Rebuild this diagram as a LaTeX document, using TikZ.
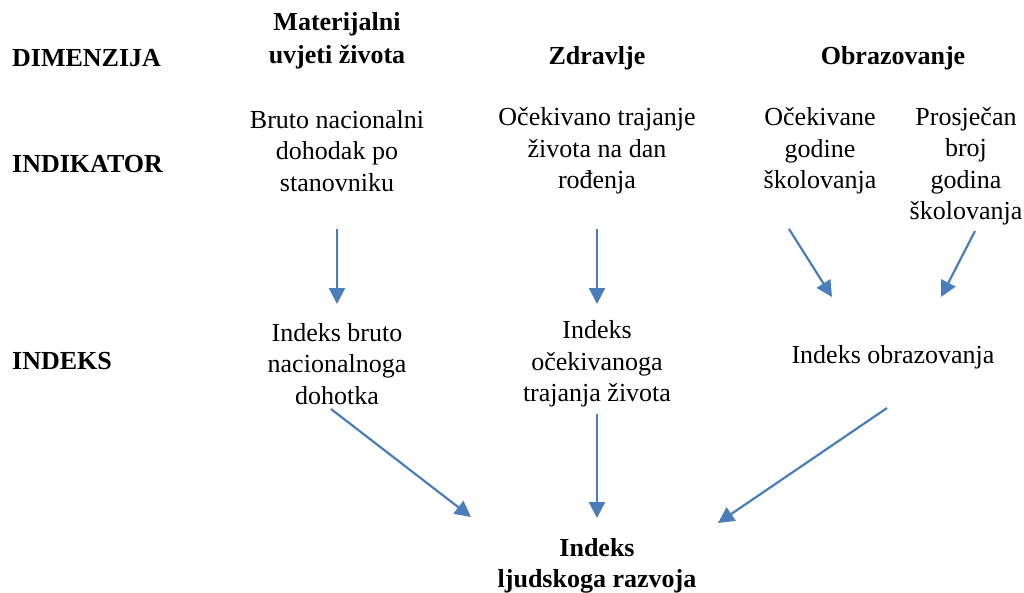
\documentclass[tikz,border=0pt]{standalone}
\usepackage{fontspec}
\setmainfont{Liberation Serif}
\usetikzlibrary{arrows.meta}
\definecolor{arrblue}{RGB}{74,126,187}
\begin{document}
\begin{tikzpicture}[x=1pt,y=-1pt,
  txt/.style={inner sep=0pt,align=center,font=\fontsize{26}{31.5}\selectfont},
  hdr/.style={txt,font=\fontsize{26}{33}\selectfont\bfseries},
  lbl/.style={inner sep=0pt,anchor=west,font=\fontsize{26}{31.5}\selectfont\bfseries},
  arr/.style={draw=arrblue,line width=2.2pt,-{Triangle[length=16pt,width=16pt]}}]
\useasboundingbox (0,0) rectangle (1024,592);
% row labels
\node[lbl] (dim) at (12,58) {DIMENZIJA};
\node[lbl] (ind) at (12,164) {INDIKATOR};
\node[lbl] (idx) at (12,361) {INDEKS};
% dimensions
\node[hdr] (mat) at (337,41) {Materijalni\\uvjeti života};
\node[hdr] (zdr) at (597,58) {Zdravlje};
\node[hdr] (obr) at (893,58) {Obrazovanje};
% indicators
\node[txt] (bnd) at (337,151) {Bruto nacionalni\\dohodak po\\stanovniku};
\node[txt] (otz) at (597,151) {Očekivano trajanje\\života na dan\\rođenja};
\node[txt] (ogs) at (820,151) {Očekivane\\godine\\školovanja};
\node[txt] (pbg) at (966,166) {Prosječan\\broj\\godina\\školovanja};
% indices
\node[txt] (ibn) at (337,364) {Indeks bruto\\nacionalnoga\\dohotka};
\node[txt] (iot) at (597,364) {Indeks\\očekivanoga\\trajanja života};
\node[txt] (iob) at (893,357) {Indeks obrazovanja};
% HDI
\node[txt,font=\fontsize{26}{31.5}\selectfont\bfseries] (hdi) at (597,566) {Indeks\\ljudskoga razvoja};
% connector end points
\coordinate (a1s) at (337,229); \coordinate (a1e) at (337,304);
\coordinate (a2s) at (597,229); \coordinate (a2e) at (597,304);
\coordinate (a3s) at (789,229); \coordinate (a3e) at (832,297);
\coordinate (a4s) at (975,231); \coordinate (a4e) at (941,297);
\coordinate (b1s) at (331,409); \coordinate (b1e) at (471,517);
\coordinate (b2s) at (597,414); \coordinate (b2e) at (597,518);
\coordinate (b3s) at (887,408); \coordinate (b3e) at (718,523);
\draw[arr] (a1s) -- (a1e);
\draw[arr] (a2s) -- (a2e);
\draw[arr] (a3s) -- (a3e);
\draw[arr] (a4s) -- (a4e);
\draw[arr] (b1s) -- (b1e);
\draw[arr] (b2s) -- (b2e);
\draw[arr] (b3s) -- (b3e);
\end{tikzpicture}
\end{document}
